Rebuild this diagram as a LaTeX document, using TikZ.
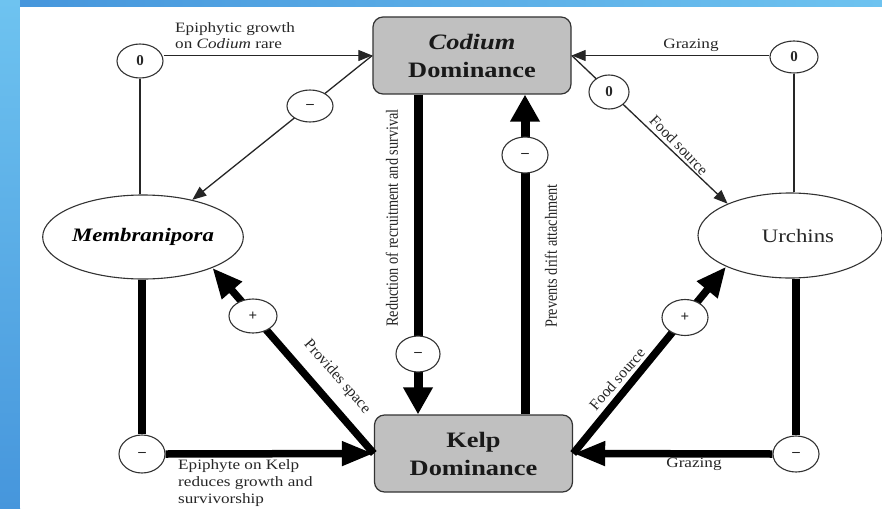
\documentclass[tikz,border=0pt]{standalone}
\usepackage{fontspec}
\usepackage{graphicx}
\setmainfont{Liberation Serif}
\usetikzlibrary{arrows.meta,shapes.geometric}
\definecolor{bgblue}{RGB}{70,150,220}
\definecolor{bglight}{RGB}{110,195,240}
\definecolor{boxgray}{RGB}{192,192,192}
\newcommand\sx[1]{\scalebox{1.2}[1]{#1}}
\tikzset{
  lab/.style={font=\fontsize{14.3}{16}\selectfont, text=black!85, inner sep=0pt, xscale=1.2},
  labd/.style={font=\fontsize{15.5}{16}\selectfont, text=black!85, inner sep=0pt},
  box/.style={draw=black!80, line width=1.2pt, fill=boxgray, rounded corners=10pt,
    minimum width=165pt, minimum height=77pt, inner sep=0pt, align=center,
    font=\fontsize{22}{28}\selectfont\bfseries, text=black!90, xscale=1.2},
  oval/.style={ellipse, draw=black!80, line width=1.1pt, fill=white, inner sep=0pt},
  sgn/.style={ellipse, draw=black!80, line width=1.1pt, fill=white, inner sep=0pt,
    minimum width=46pt, minimum height=34pt, font=\fontsize{15}{15}\selectfont\bfseries, text=black!85},
  tln/.style={line width=1.3pt, draw=black!85},
  tk/.style={line width=7.5pt, draw=black},
  tkv/.style={line width=9pt, draw=black},
  tarr/.style={-{Triangle[length=14pt,width=11pt]}},
  harrow/.style={-{Triangle[length=32pt,width=23pt]}},
  varrow/.style={-{Triangle[length=27pt,width=28pt]}},
  darrow/.style={-{Triangle[length=30pt,width=25pt]}}
}
\begin{document}
\begin{tikzpicture}[x=1pt,y=-1pt]
\useasboundingbox (0,0) rectangle (882,508);
\shade[top color=bglight, bottom color=bgblue] (0,0) rectangle (20,508);
\shade[left color=bgblue, right color=bglight] (20,0) rectangle (882,7);
\fill[white] (20,7) rectangle (882,508);

\coordinate (rx) at (418,0);
\coordinate (px) at (525,0);

% main nodes
\node[box] (cod) at (472,55.5) {\textit{Codium}\\Dominance};
\node[box] (kelp) at (473.5,453.5) {Kelp\\Dominance};
\node[oval, minimum width=192pt, minimum height=84pt] (mem) at (143,237)
  {\sx{\fontsize{19}{19}\selectfont\bfseries\itshape Membranipora}};
\node[oval, minimum width=184pt, minimum height=85pt] (urc) at (790,235.5) {};
\node[font=\fontsize{19}{19}\selectfont, text=black!85, inner sep=0pt] (urct) at (798,236) {\sx{Urchins}};

% end circles
\node[sgn] (c0tl) at (140,61) {0};
\node[sgn, minimum width=48pt, minimum height=32pt] (c0tr) at (794,57) {0};
\node[sgn, minimum height=38pt] (cml) at (142,454) {--};
\node[sgn, minimum height=36pt] (cmr) at (796,454) {--};

% thin connectors
\draw[tln] (c0tl.south) -- (c0tl.south |- mem.north);
\draw[tln, tarr] (c0tl.east |- cod.west) -- (cod.west);
\draw[tln, tarr] (cod.west) -- (mem.37);
\draw[tln, tarr] (c0tr.west |- cod.east) -- (cod.east);
\draw[tln] (c0tr.south) -- (c0tr.south |- urc.north);
\draw[tln, tarr] (cod.east) -- (urc.153);

% thick connectors
\draw[tk] (cml.north |- mem.south) -- (cml.north);
\draw[tk, harrow] (cml.east) -- (kelp.west);
\draw[tk, darrow] (kelp.west) -- (mem.-24);
\draw[tkv, varrow] (rx |- cod.south) -- (rx |- kelp.north);
\draw[tkv, varrow] (px |- kelp.north) -- (px |- cod.south);
\draw[tk, darrow] (kelp.east) -- (urc.206);
\draw[tk] (cmr.north |- urc.south) -- (cmr.north);
\draw[tk, harrow] (cmr.west) -- (kelp.east);

% circles on connectors
\node[sgn, minimum height=32pt] (cmtl) at (310,106) {--};
\node[sgn, minimum width=40pt] (c0cu) at (609,92) {0};
\node[sgn, minimum width=44pt, minimum height=36pt] (cmk) at (418,354) {--};
\node[sgn, minimum height=36pt] (cmp) at (525,155) {--};
\node[sgn, minimum width=48pt] (cpm) at (253,316) {+};
\node[sgn, minimum height=36pt] (cpu) at (685,317.5) {+};

% labels
\node[lab, anchor=west, align=left] (lepi) at (175,36) {Epiphytic growth\\on \textit{Codium} rare};
\node[lab] (lgrz1) at (691,45) {Grazing};
\node[labd, rotate=-46] (lfood1) at (679,145) {Food source};
\node[lab, rotate=90] (lred) at (392,218) {Reduction of recruitment and survival};
\node[lab, rotate=90] (lprev) at (551,256) {Prevents drift attachment};
\node[labd, rotate=-48.7] (lprov) at (337,377) {Provides space};
\node[labd, rotate=49] (lfood2) at (617,379) {Food source};
\node[lab, anchor=west, align=left, font=\fontsize{14.3}{17}\selectfont] (lepk) at (178,483)
  {Epiphyte on Kelp\\reduces growth and\\survivorship};
\node[lab] (lgrz2) at (694,464) {Grazing};
\end{tikzpicture}
\end{document}
